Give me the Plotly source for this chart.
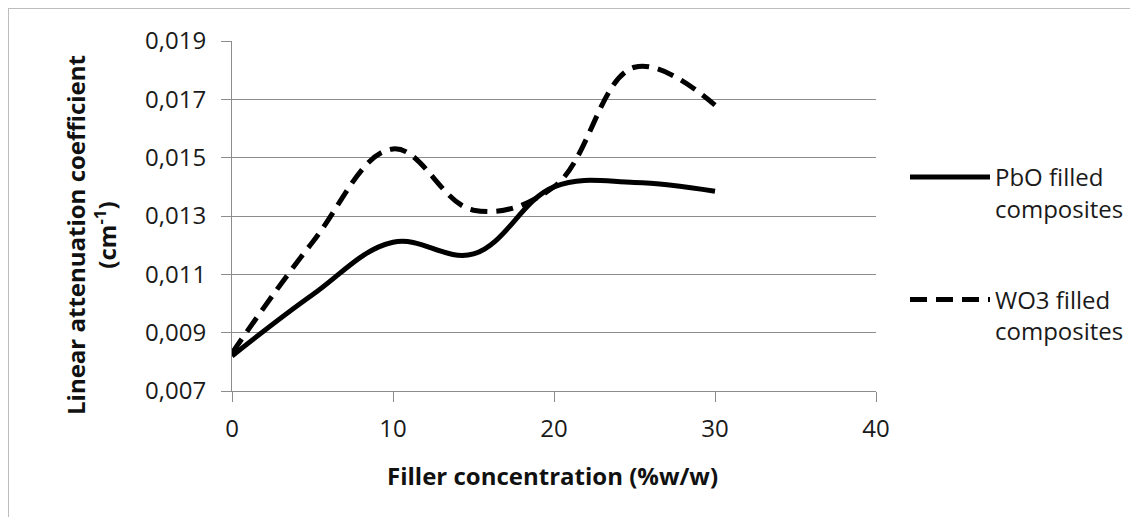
import plotly.graph_objects as go

filler = [0, 5, 10, 15, 20, 25, 30]
pbo = [0.0082, 0.0103, 0.0121, 0.0117, 0.0140, 0.01415, 0.01385]
wo3 = [0.0083, 0.0121, 0.0153, 0.0132, 0.0140, 0.0181, 0.0168]
y_ticks = [0.007, 0.009, 0.011, 0.013, 0.015, 0.017, 0.019]
x_ticks = [0, 10, 20, 30, 40]

FONT = "Open Sans"
TXT = "#1a1a1a"
# page body has an 8px margin: work in figure (div) coordinates
W, H = 1130, 509
L, T = 224, 33
pw, ph = 644, 350
R, B = W - L - pw, H - T - ph


def px(xd):
    return (xd - L) / pw


def py(yd):
    return (T + ph - yd) / ph


fig = go.Figure()
fig.add_trace(go.Scatter(
    x=filler, y=pbo, mode="lines", name="PbO filled<br>composites",
    line=dict(color="black", width=5, shape="spline", smoothing=1.1),
    legendgroup="a"))
fig.add_trace(go.Scatter(
    x=filler, y=wo3, mode="lines", name="WO3 filled<br>composites",
    line=dict(color="black", width=5, shape="spline", smoothing=1.1, dash="17px,9px"),
    legendgroup="b"))

grid = "#8c8c8c"
fig.update_layout(
    width=W, height=H,
    margin=dict(l=L, r=R, t=T, b=B, autoexpand=False),
    paper_bgcolor="white", plot_bgcolor="white",
    separators=",.",
    font=dict(family=FONT, size=24, color=TXT),
    showlegend=True,
    legend=dict(x=px(897), y=py(147), xanchor="left", yanchor="top", valign="top",
                font=dict(family=FONT, size=24, color=TXT),
                tracegroupgap=57, itemwidth=80, bgcolor="rgba(0,0,0,0)"),
    xaxis=dict(range=[0, 40], tickvals=x_ticks, showgrid=False, zeroline=False,
               showline=True, linecolor=grid, linewidth=1,
               ticks="outside", ticklen=10, tickcolor=grid, ticklabelstandoff=6,
               tickfont=dict(family=FONT, size=24, color=TXT)),
    yaxis=dict(range=[0.007, 0.019], tickvals=y_ticks, tickformat=".3f",
               showgrid=True, gridcolor=grid, gridwidth=1, zeroline=False,
               showline=True, linecolor=grid, linewidth=1,
               ticks="outside", ticklen=10, tickcolor=grid, ticklabelstandoff=10,
               tickfont=dict(family=FONT, size=24, color=TXT)),
)

fig.add_annotation(text="<b>Linear attenuation coefficient<br>(cm<sup>-1</sup>)</b>",
                   xref="paper", yref="paper", x=px(83), y=py(227),
                   xanchor="center", yanchor="middle", textangle=-90, showarrow=False,
                   font=dict(family=FONT, size=24, color="#111"))
fig.add_annotation(text="<b>Filler concentration (%w/w)</b>",
                   xref="paper", yref="paper", x=px(544), y=py(467),
                   xanchor="center", yanchor="middle", showarrow=False,
                   font=dict(family=FONT, size=24, color="#111"))

# outer light border (image is cropped on right/bottom)
fig.add_shape(type="rect", xref="paper", yref="paper",
              x0=px(0), x1=px(W + 20), y0=py(H + 20), y1=py(0),
              line=dict(color="#bdbdbd", width=2), fillcolor="rgba(0,0,0,0)", layer="below")

fig.write_html("out.html")
